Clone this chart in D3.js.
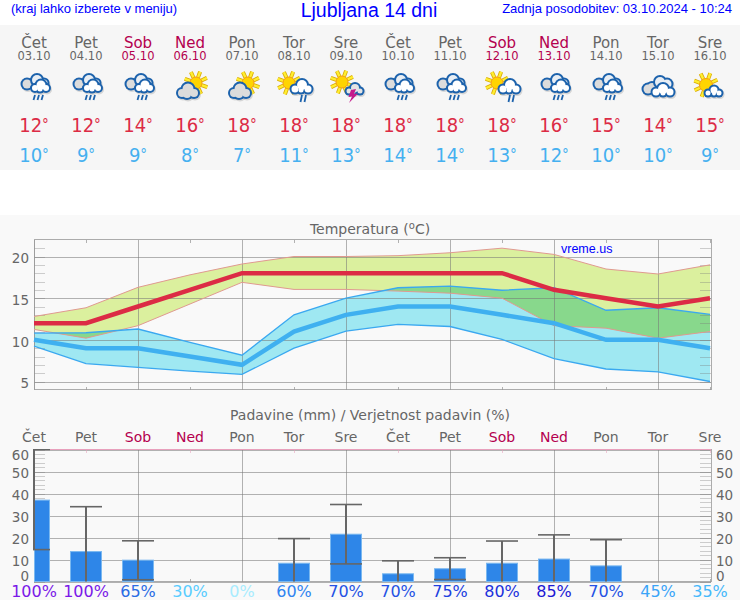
<!DOCTYPE html>
<html>
<head>
<meta charset="utf-8">
<title>Ljubljana 14 dni</title>
<script src="https://cdn.jsdelivr.net/npm/d3@7"></script>
<style>
  html, body { margin: 0; padding: 0; background: #fff; }
  svg { display: block; }
  text { font-family: "DejaVu Sans", sans-serif; }
  .head { font-family: "Liberation Sans", Arial, sans-serif; fill: #0000ff; }
  .temp { font-family: "DejaVu Sans Condensed", "DejaVu Sans", sans-serif; }
</style>
</head>
<body>
<div id="chart"></div>
<script>
const days = ["Čet", "Pet", "Sob", "Ned", "Pon", "Tor", "Sre", "Čet", "Pet", "Sob", "Ned", "Pon", "Tor", "Sre"];
const dates = ["03.10", "04.10", "05.10", "06.10", "07.10", "08.10", "09.10", "10.10", "11.10", "12.10", "13.10", "14.10", "15.10", "16.10"];
const icons = ["rain", "rain", "rain", "sunCloud", "sunCloud", "sunRain", "sunBolt", "rain", "rain", "sunRain", "rain", "rain", "cloud", "sunSmall"];

const tMax = [12, 12, 14, 16, 18, 18, 18, 18, 18, 18, 16, 15, 14, 15];
const tMin = [10, 9, 9, 8, 7, 11, 13, 14, 14, 13, 12, 10, 10, 9];
const tMaxHigh = [12.8, 13.85, 16.3, 17.8, 19.1, 20, 20, 20.1, 20.45, 21, 20.25, 18.5, 17.9, 19];
const tMaxLow = [11.25, 10.2, 11.7, 14.3, 16.9, 16.05, 16.05, 15.85, 15.6, 15, 11.7, 11.4, 10.2, 11];
const tMinHigh = [10.8, 10.85, 11.3, 9.7, 8.15, 13, 15, 16.25, 16.45, 15.95, 16.25, 13.55, 13.85, 13.05];
const tMinLow = [9.25, 7.15, 6.7, 6.25, 5.85, 9, 11.05, 11.85, 11.6, 10.05, 7.75, 6.5, 6.15, 5];

const rain = [37, 13.6, 9.7, 0, 0, 8.3, 21.5, 3.5, 5.8, 8.3, 10.2, 7.1, 0, 0];
const rainHigh = [60, 34, 18.5, 0, 0, 19.5, 35, 9.4, 10.8, 18.4, 21.2, 19, 0, 0];
const rainLow = [14.5, 0, 0.8, 0, 0, 0, 8, 0, 0.9, 0, 0, 0, 0, 0];
const prob = [100, 100, 65, 30, 0, 60, 70, 70, 75, 80, 85, 70, 45, 35];

const probValues = [0, 30, 35, 45, 60, 65, 70, 75, 80, 85, 100];
const probColors = ["#a8ecff", "#58ccff", "#45b8fb", "#3aa4f8", "#3084f0", "#2a6ce4", "#2452e4", "#2040e0", "#2030dc", "#1c18d4", "#7a18e8"];

const tempTicks = [5, 10, 15, 20];
const tempMinor = d3.range(5, 22);
const rainTicks = [0, 10, 20, 30, 40, 50, 60];
const rainMinor = d3.range(0, 61, 2);

const width = 740, height = 600;
const left = 34, right = 710;
const idx = d3.range(days.length);
const gray = "#666";
const weekend = "#b4004e";
const dayColor = d => (d === "Sob" || d === "Ned") ? weekend : gray;

const svg = d3.select("#chart").append("svg").attr("width", width).attr("height", height);

svg.append("rect").attr("width", width).attr("height", height).attr("fill", "#fff");
svg.append("rect").attr("y", 25).attr("width", width).attr("height", 145).attr("fill", "#f6f6f6");
svg.append("rect").attr("y", 215).attr("width", width).attr("height", 385).attr("fill", "#f9f9f9");

const x = d3.scalePoint().domain(idx).range([left, right]);
const yT = d3.scaleLinear().domain([4.04, 22.04]).range([389.5, 239.5]);
const yR = d3.scaleLinear().domain([0, 60]).range([581.5, 449.5]);

// header
svg.append("text").attr("class", "head").attr("x", 11).attr("y", 13).style("font-size", "13px").text("(kraj lahko izberete v meniju)");
svg.append("text").attr("class", "head").attr("x", 369).attr("y", 17).attr("text-anchor", "middle").style("font-size", "19.5px").text("Ljubljana 14 dni");
svg.append("text").attr("class", "head").attr("x", 732).attr("y", 13).attr("text-anchor", "end").style("font-size", "13px").text("Zadnja posodobitev: 03.10.2024 - 10:24");

// top strip
const cols = svg.append("g").selectAll("g").data(idx).enter().append("g")
  .attr("transform", i => "translate(" + x(i) + ",0)")
  .attr("text-anchor", "middle");

cols.append("text").attr("y", 48).style("font-size", "15px").attr("fill", i => dayColor(days[i])).text(i => days[i]);
cols.append("text").attr("y", 60).style("font-size", "11.5px").attr("fill", i => dayColor(days[i])).text(i => dates[i]);

function tempLabel(sel, y, color, vals) {
  const t = sel.append("text").attr("class", "temp").attr("y", y).style("font-size", "20px").attr("fill", color);
  t.append("tspan").text(i => vals[i]);
  t.append("tspan").attr("dy", -2).style("font-size", "15px").text("°");
}
tempLabel(cols, 132, "#dc2b45", tMax);
tempLabel(cols, 162, "#45b0f0", tMin);

// icons
const blue = "#1c62ac";

function cloud(g, parts, fill) {
  g.selectAll(null).data(parts).enter().append("circle")
    .attr("cx", d => d[0] + 1).attr("cy", d => d[1] + 1.5).attr("r", d => d[2] + 1).attr("fill", "#999").attr("opacity", 0.35);
  g.selectAll(null).data(parts).enter().append("circle")
    .attr("cx", d => d[0]).attr("cy", d => d[1]).attr("r", d => d[2] + 1).attr("fill", blue);
  g.selectAll(null).data(parts).enter().append("circle")
    .attr("cx", d => d[0]).attr("cy", d => d[1]).attr("r", d => d[2] - 1).attr("fill", fill);
}

function sun(g, cx, cy, r) {
  const rays = d3.range(0, 360, 45).map(a => (a + 20) * Math.PI / 180);
  [["#d8a800", 4], ["#ffee30", 2.4]].forEach(s => {
    g.selectAll(null).data(rays).enter().append("line")
      .attr("x1", a => cx + Math.cos(a) * r)
      .attr("y1", a => cy + Math.sin(a) * r)
      .attr("x2", a => cx + Math.cos(a) * (r + 6))
      .attr("y2", a => cy + Math.sin(a) * (r + 6))
      .attr("stroke", s[0]).attr("stroke-width", s[1]);
  });
  g.append("circle").attr("cx", cx).attr("cy", cy).attr("r", r).attr("fill", "#ffd400").attr("stroke", "#f59a10").attr("stroke-width", 1);
}

function drops(g, xs, y1, y2) {
  g.selectAll(null).data(xs).enter().append("line")
    .attr("x1", d => d + 1).attr("y1", y1).attr("x2", d => d - 0.5).attr("y2", y2)
    .attr("stroke", blue).attr("stroke-width", 1.8);
}

const drawIcon = {
  rain(g) {
    cloud(g, [[-7, -2, 5.5], [-2, -3, 4]], "#dcdcdc");
    cloud(g, [[3, -6, 6], [10, -3, 4.5]], "#e8eef4");
    cloud(g, [[1, 2, 4], [7, -1, 5.5], [12, 2, 4], [6, 3, 3.5]], "#fff");
    drops(g, [0, 4, 8], 9, 14);
  },
  sunCloud(g) {
    sun(g, 6, -3, 6);
    cloud(g, [[-8, 7, 5], [-2, 3, 6.5], [4, 7, 5], [-3, 8, 5]], "#dcdcdc");
  },
  sunRain(g) {
    sun(g, -5, -3, 6);
    cloud(g, [[1, 3, 4.5], [8, -1, 6], [14, 3, 4.5], [7, 4, 3.5]], "#fff");
    drops(g, [7, 11], 9, 16);
  },
  sunBolt(g) {
    sun(g, -4, -4, 6);
    cloud(g, [[3, 5, 3.5], [9, 2, 5], [14, 5, 3.5], [8, 6, 2.5]], "#e4e4e4");
    g.append("path").attr("d", "M5 4L10 3L8 8L12 7.5L3 17L6 10.5L2.5 11Z").attr("fill", "#c41a8c");
  },
  cloud(g) {
    cloud(g, [[-10, 3, 5.5], [-6, 1, 5]], "#dcdcdc");
    cloud(g, [[2, -4, 6], [9, -2, 5.5]], "#e8eef4");
    cloud(g, [[-2, 6, 4.5], [5, 3, 6], [12, 6, 4.5], [5, 7, 3.5]], "#fff");
  },
  sunSmall(g) {
    sun(g, -4, -1, 6.5);
    cloud(g, [[-2, 7, 3.5], [4, 4, 4.5], [9, 7, 3.5], [4, 7.5, 3]], "#fff");
  }
};

cols.append("g").attr("transform", "translate(0,86)").each(function (i) {
  drawIcon[icons[i]](d3.select(this));
});

// temperature chart
svg.append("text").attr("x", 370).attr("y", 234).attr("text-anchor", "middle").attr("fill", gray).style("font-size", "14px")
  .call(t => {
    t.append("tspan").text("Temperatura (");
    t.append("tspan").attr("dy", -5).style("font-size", "10px").text("o");
    t.append("tspan").attr("dy", 5).text("C)");
  });

const plot = svg.append("g");

const bandArea = (hi, lo) => d3.area().x(i => x(i)).y0(i => yT(lo[i])).y1(i => yT(hi[i]));
const edge = vals => d3.line().x(i => x(i)).y(i => yT(vals[i]));

svg.append("clipPath").attr("id", "minBand").append("path").attr("d", bandArea(tMinHigh, tMinLow)(idx));

plot.append("path").attr("d", bandArea(tMaxHigh, tMaxLow)(idx)).attr("fill", "#dbf09e");
plot.append("path").attr("d", bandArea(tMinHigh, tMinLow)(idx)).attr("fill", "#9fe8f2");
plot.append("path").attr("d", bandArea(tMaxHigh, tMaxLow)(idx)).attr("fill", "#88d88c").attr("clip-path", "url(#minBand)");

function styleGrid(g) {
  g.select(".domain").remove();
  g.selectAll("line").attr("stroke", "#777").attr("stroke-opacity", 0.55).attr("shape-rendering", "crispEdges");
}

function grid(yScale, ticks, minor, top, bottom, tickColor) {
  const g = svg.append("g");
  g.append("g").attr("transform", "translate(" + left + ",0)")
    .call(d3.axisLeft(yScale).tickValues(minor).tickSize(-11).tickFormat("")).call(styleGrid)
    .selectAll("line").attr("stroke-opacity", 0.35);
  g.append("g").attr("transform", "translate(" + (right + 1) + ",0)")
    .call(d3.axisRight(yScale).tickValues(minor).tickSize(-11).tickFormat("")).call(styleGrid)
    .selectAll("line").attr("stroke-opacity", 0.35);
  g.append("g").attr("transform", "translate(" + left + ",0)")
    .call(d3.axisLeft(yScale).tickValues(ticks).tickSize(-(right + 1 - left)).tickFormat("")).call(styleGrid);
  // full height line on even days, short tick on the odd ones
  g.append("g").attr("transform", "translate(0," + top + ")")
    .call(d3.axisTop(x).tickValues(idx.filter(i => i % 2 === 0)).tickSize(-(bottom - top)).tickFormat("")).call(styleGrid);
  g.append("g").attr("transform", "translate(0," + top + ")")
    .call(d3.axisTop(x).tickValues(idx.filter(i => i % 2 === 1)).tickSize(-3).tickFormat("")).call(styleGrid)
    .selectAll("line").attr("stroke", tickColor);
  g.append("g").attr("transform", "translate(0," + bottom + ")")
    .call(d3.axisBottom(x).tickValues(idx.filter(i => i % 2 === 1)).tickSize(-3).tickFormat("")).call(styleGrid);
  g.append("rect").attr("x", left).attr("y", top).attr("width", right + 1 - left).attr("height", bottom - top)
    .attr("fill", "none").attr("stroke", "#999").attr("stroke-opacity", 0.8).attr("shape-rendering", "crispEdges");
  return g;
}

grid(yT, tempTicks, tempMinor, 239.5, 389.5, "#777");

const lines = svg.append("g").attr("fill", "none");
lines.append("path").attr("d", edge(tMaxHigh)(idx)).attr("stroke", "#e09a90").attr("stroke-width", 1);
lines.append("path").attr("d", edge(tMaxLow)(idx)).attr("stroke", "#e09a90").attr("stroke-width", 1);
lines.append("path").attr("d", edge(tMinHigh)(idx)).attr("stroke", "#3aa8f0").attr("stroke-width", 1.3);
lines.append("path").attr("d", edge(tMinLow)(idx)).attr("stroke", "#3aa8f0").attr("stroke-width", 1.3);
lines.append("path").attr("d", edge(tMin)(idx)).attr("stroke", "#3fb0f0").attr("stroke-width", 4.5);
lines.append("path").attr("d", edge(tMax)(idx)).attr("stroke", "#dc2b45").attr("stroke-width", 4.5);

svg.append("text").attr("class", "head").attr("x", 561).attr("y", 253).style("font-size", "12.5px").text("vreme.us");

const tempAxis = svg.append("g").attr("transform", "translate(" + left + ",0)")
  .call(d3.axisLeft(yT).tickValues(tempTicks).tickSize(0).tickPadding(5));
tempAxis.select(".domain").remove();
tempAxis.selectAll("text").attr("fill", gray).attr("dy", "0.48em").style("font-size", "13.5px").style("font-family", "'DejaVu Sans'");

// precipitation chart
svg.append("text").attr("x", 370).attr("y", 420).attr("text-anchor", "middle").attr("fill", gray).style("font-size", "14px")
  .text("Padavine (mm) / Verjetnost padavin (%)");

grid(yR, rainTicks, rainMinor, 449.5, 581.5, "#e8a0bc");

svg.append("line").attr("x1", left).attr("x2", right + 1).attr("y1", 449.5).attr("y2", 449.5)
  .attr("stroke", "#e8a0bc").attr("shape-rendering", "crispEdges");

svg.append("g").attr("text-anchor", "middle").selectAll("text").data(idx).enter().append("text")
  .attr("x", i => x(i)).attr("y", 442).style("font-size", "14px")
  .attr("fill", i => dayColor(days[i])).text(i => days[i]);

svg.append("clipPath").attr("id", "rainPlot").append("rect")
  .attr("x", left - 1).attr("y", 449).attr("width", right + 2 - left).attr("height", 134);

const barHalf = 16;
const wet = idx.filter(i => rain[i] > 0);
const rainG = svg.append("g").attr("clip-path", "url(#rainPlot)");

rainG.selectAll("rect").data(wet).enter().append("rect")
  .attr("x", i => Math.max(x(i) - barHalf, left) + 0.5)
  .attr("y", i => yR(rain[i]))
  .attr("width", i => x(i) + barHalf - Math.max(x(i) - barHalf, left) - 1)
  .attr("height", i => yR(0) - yR(rain[i]))
  .attr("fill", "#2e86e8").attr("stroke", "#7ab8f0").attr("stroke-width", 1);

const errColor = "#666";
rainG.selectAll(".err").data(wet).enter().append("line").attr("class", "err")
  .attr("x1", i => x(i)).attr("x2", i => x(i))
  .attr("y1", i => yR(rainHigh[i])).attr("y2", i => yR(rainLow[i]))
  .attr("stroke", errColor).attr("stroke-width", 2);
rainG.selectAll(".capHigh").data(wet).enter().append("line").attr("class", "capHigh")
  .attr("x1", i => x(i) - barHalf).attr("x2", i => x(i) + barHalf)
  .attr("y1", i => yR(rainHigh[i])).attr("y2", i => yR(rainHigh[i]))
  .attr("stroke", errColor).attr("stroke-width", 1.6);
rainG.selectAll(".capLow").data(wet.filter(i => rainLow[i] > 0)).enter().append("line").attr("class", "capLow")
  .attr("x1", i => x(i) - barHalf).attr("x2", i => x(i) + barHalf)
  .attr("y1", i => yR(rainLow[i])).attr("y2", i => yR(rainLow[i]))
  .attr("stroke", errColor).attr("stroke-width", 1.6);

// 0 and 60 labels sit inside the plot height in the original
const nudge = v => v === 0 ? -5 : v === 60 ? 5.5 : 1.5;
[[d3.axisLeft, left, 5], [d3.axisRight, right, 6]].forEach(a => {
  const ax = svg.append("g").attr("transform", "translate(" + a[1] + ",0)")
    .call(a[0](yR).tickValues(rainTicks).tickSize(0).tickPadding(a[2]));
  ax.select(".domain").remove();
  ax.selectAll("text").attr("fill", gray).style("font-size", "13.5px").style("font-family", "'DejaVu Sans'")
    .attr("transform", v => "translate(0," + nudge(v) + ")");
});

const probColor = d3.scaleOrdinal().domain(probValues).range(probColors);

svg.append("g").attr("text-anchor", "middle").selectAll("text").data(idx).enter().append("text")
  .attr("x", i => x(i)).attr("y", 597).style("font-size", "16px")
  .attr("fill", i => probColor(prob[i])).text(i => prob[i] + "%");
</script>
</body>
</html>
